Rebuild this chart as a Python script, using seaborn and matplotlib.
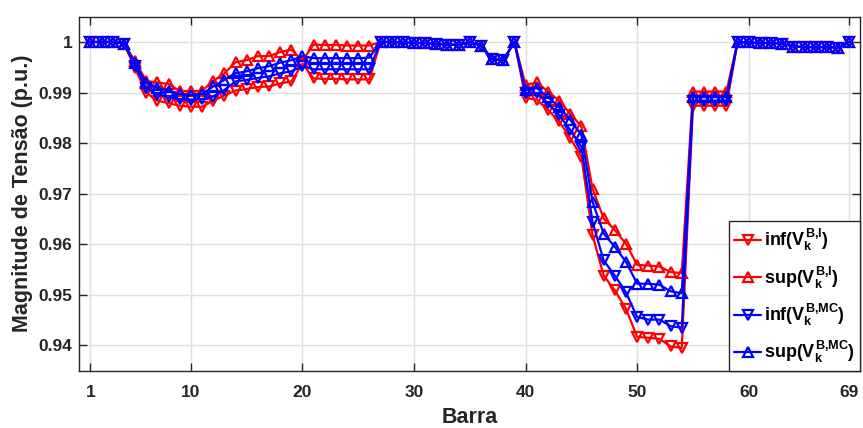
import matplotlib
matplotlib.use("Agg")
import matplotlib.pyplot as plt
import seaborn as sns
import numpy as np

bus = list(range(1, 70))

inf_I = [1.0, 1.0, 1.0, 0.9997, 0.9948, 0.9899, 0.9884, 0.9879, 0.9874, 0.9872,
         0.9872, 0.9884, 0.9894, 0.9904, 0.9907, 0.9911, 0.9912, 0.9918, 0.9922, 0.9957,
         0.9928, 0.9927, 0.9927, 0.9926, 0.9926, 0.9926, 1.0, 1.0, 0.9999, 0.9998,
         0.9998, 0.9996, 0.9995, 0.9994, 1.0, 0.9993, 0.9966, 0.9964, 1.0, 0.9889,
         0.9886, 0.9866, 0.9843, 0.9810, 0.9773, 0.9618, 0.9538, 0.9509, 0.9472, 0.9417,
         0.9415, 0.9413, 0.9398, 0.9395, 0.9874, 0.9874, 0.9874, 0.9874, 1.0, 0.9999,
         0.9998, 0.9998, 0.9997, 0.9991, 0.9990, 0.9990, 0.9990, 0.9989, 1.0]

sup_I = [1.0, 1.0, 1.0, 0.9997, 0.9962, 0.9923, 0.9920, 0.9917, 0.9903, 0.9903,
         0.9903, 0.9923, 0.9938, 0.9960, 0.9964, 0.9972, 0.9972, 0.9980, 0.9985, 0.9963,
         0.9995, 0.9994, 0.9994, 0.9993, 0.9993, 0.9993, 1.0, 1.0, 0.9999, 0.9998,
         0.9998, 0.9996, 0.9995, 0.9994, 1.0, 0.9993, 0.9966, 0.9964, 1.0, 0.9915,
         0.9920, 0.9902, 0.9884, 0.9858, 0.9833, 0.9710, 0.9651, 0.9628, 0.9601, 0.9559,
         0.9558, 0.9556, 0.9545, 0.9543, 0.9902, 0.9902, 0.9902, 0.9902, 1.0, 0.9999,
         0.9998, 0.9998, 0.9997, 0.9991, 0.9990, 0.9990, 0.9990, 0.9989, 1.0]

inf_MC = [1.0, 1.0, 1.0, 0.9997, 0.9952, 0.9909, 0.9896, 0.9892, 0.9887, 0.9886,
          0.9887, 0.9892, 0.9905, 0.9922, 0.9925, 0.9929, 0.9932, 0.9938, 0.9942, 0.9952,
          0.9946, 0.9946, 0.9946, 0.9946, 0.9946, 0.9946, 1.0, 1.0, 0.9999, 0.9998,
          0.9998, 0.9996, 0.9995, 0.9994, 1.0, 0.9993, 0.9966, 0.9964, 1.0, 0.9899,
          0.9899, 0.9879, 0.9856, 0.9826, 0.9793, 0.9644, 0.9568, 0.9538, 0.9505, 0.9456,
          0.9451, 0.9451, 0.9438, 0.9435, 0.9884, 0.9884, 0.9884, 0.9884, 1.0, 0.9999,
          0.9998, 0.9998, 0.9997, 0.9991, 0.9990, 0.9990, 0.9990, 0.9989, 1.0]

sup_MC = [1.0, 1.0, 1.0, 0.9997, 0.9958, 0.9919, 0.9909, 0.9904, 0.9897, 0.9895,
          0.9897, 0.9912, 0.9925, 0.9938, 0.9942, 0.9948, 0.9952, 0.9959, 0.9964, 0.9972,
          0.9968, 0.9968, 0.9968, 0.9968, 0.9968, 0.9969, 1.0, 1.0, 0.9999, 0.9998,
          0.9998, 0.9996, 0.9995, 0.9994, 1.0, 0.9993, 0.9966, 0.9964, 1.0, 0.9905,
          0.9909, 0.9891, 0.9871, 0.9846, 0.9816, 0.9684, 0.9621, 0.9595, 0.9565, 0.9522,
          0.9522, 0.9520, 0.9507, 0.9503, 0.9891, 0.9891, 0.9891, 0.9891, 1.0, 0.9999,
          0.9998, 0.9998, 0.9997, 0.9991, 0.9990, 0.9990, 0.9990, 0.9989, 1.0]

labels = [r"inf($V_k^{B{,}I}$)", r"sup($V_k^{B{,}I}$)",
          r"inf($V_k^{B{,}MC}$)", r"sup($V_k^{B{,}MC}$)"]
xticks = [1, 10, 20, 30, 40, 50, 60, 69]
yticks = [0.94, 0.95, 0.96, 0.97, 0.98, 0.99, 1.0]
ytick_labels = ["0.94", "0.95", "0.96", "0.97", "0.98", "0.99", "1"]

sns.set_theme(style="whitegrid")
plt.rcParams['font.family'] = ['Liberation Sans', 'DejaVu Sans']
plt.rcParams['font.weight'] = 'bold'
plt.rcParams['mathtext.fontset'] = 'custom'
plt.rcParams['mathtext.rm'] = 'Liberation Sans:bold'
plt.rcParams['mathtext.it'] = 'Liberation Sans:bold'
plt.rcParams['mathtext.bf'] = 'Liberation Sans:bold'

fig = plt.figure(figsize=(8.63, 4.28), dpi=100)
ax = fig.add_axes([79.3 / 863, 1 - 370.7 / 428, (860.3 - 79.3) / 863, (370.7 - 16.7) / 428])
ax.set_facecolor('white')

series = [inf_I, sup_I, inf_MC, sup_MC]
colors = ['#ff0000', '#ff0000', '#0000ff', '#0000ff']
markers = ['v', '^', 'v', '^']
for vals, c, m, lab in zip(series, colors, markers, labels):
    sns.lineplot(x=bus, y=vals, ax=ax, color=c, marker=m, markersize=6.5,
                 markerfacecolor='none', markeredgecolor=c, markeredgewidth=1.6,
                 linewidth=1.6, label=lab)

ax.set_xlim(0, 70)
ax.set_ylim(0.935, 1.005)
ax.set_xticks(xticks)
ax.set_yticks(yticks)
ax.set_yticklabels(ytick_labels)
ax.grid(True, color='#dfdfdf', linewidth=1.0)
for s in ax.spines.values():
    s.set_visible(True)
    s.set_color('#262626')
    s.set_linewidth(1.0)
ax.tick_params(axis='both', which='both', direction='in', length=6, width=1.0,
               color='#262626', labelcolor='#262626', labelsize=12.5,
               top=True, right=True, bottom=True, left=True)
ax.tick_params(axis='x', pad=10)
ax.tick_params(axis='y', pad=5)
for t in ax.get_xticklabels() + ax.get_yticklabels():
    t.set_fontweight('bold')
ax.set_xlabel("Barra", fontsize=15.5, fontweight='bold', color='#262626', labelpad=5)
ax.set_ylabel("Magnitude de Tensão (p.u.)", fontsize=15.5, fontweight='bold',
              color='#262626', labelpad=4)

leg = ax.legend(loc='lower right', borderaxespad=0, fontsize=13,
                frameon=True, fancybox=False, labelspacing=0.6,
                handlelength=1.5, handletextpad=0.15, borderpad=0.3)
leg.get_frame().set_edgecolor('#262626')
leg.get_frame().set_linewidth(1.0)
leg.get_frame().set_alpha(1.0)
for t in leg.get_texts():
    t.set_fontweight('bold')
    t.set_color('black')

fig.savefig("out.png", dpi=100)
